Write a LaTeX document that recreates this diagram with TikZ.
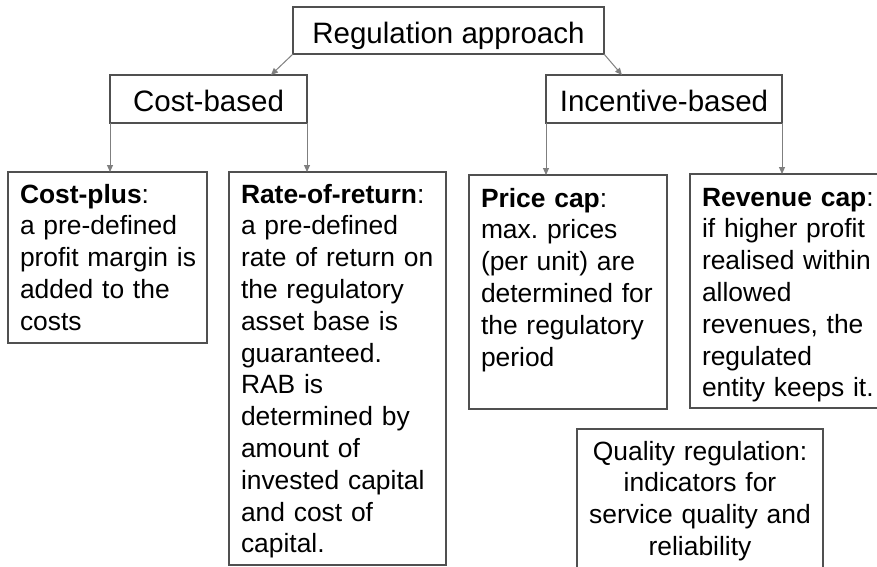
\documentclass[tikz,border=0pt]{standalone}
\usepackage{fontspec}
\setmainfont{Liberation Sans}
\usetikzlibrary{arrows.meta,calc}
\definecolor{boxc}{HTML}{505050}
\definecolor{arrc}{HTML}{7F7F7F}
\begin{document}
\begin{tikzpicture}[x=1pt,y=-1pt,
  box/.style={draw=boxc, line width=1.3pt, inner ysep=0pt, inner xsep=12pt, outer sep=0pt},
  head/.style={box, font=\fontsize{29.5}{35}\selectfont},
  body/.style={box, font=\fontsize{26.4}{31.8}\selectfont, align=left,
    execute at begin node={\hyphenpenalty=10000\exhyphenpenalty=10000\hfuzz=50pt}},
  arr/.style={draw=arrc, line width=1pt, -{Triangle[width=6pt,length=7pt]}}]
\useasboundingbox (0,0) rectangle (877,566);

\node[head, minimum width=311pt, text height=36pt, text depth=11pt, anchor=base] (top) at (448.5,43) {Regulation approach};
\node[head, minimum width=197pt, text height=36pt, text depth=12pt, anchor=base] (cb) at (208.5,111) {Cost-based};
\node[head, minimum width=236pt, text height=36pt, text depth=12pt, anchor=base] (ib) at (664,111) {Incentive-based};

\node[body, text width=175pt, text height=31pt, text depth=140pt, anchor=base west] (cp) at (8,203)
  {\textbf{Cost-plus}:\\a~pre-defined\\profit~margin~is\\added~to~the\\costs};
\node[body, text width=193pt, text height=31pt, text depth=362pt, anchor=base west] (rr) at (229,203)
  {\textbf{Rate-of-return}:\\a~pre-defined\\rate~of~return~on\\the~regulatory\\asset~base~is\\guaranteed.\\RAB~is\\determined~by\\amount~of\\invested~capital\\and~cost~of\\capital.};
\node[body, text width=174pt, text height=32pt, text depth=202pt, anchor=base west] (pc) at (469,207)
  {\textbf{Price~cap}:\\max.~prices\\(per~unit)~are\\determined~for\\the~regulatory\\period};
\node[body, text width=176pt, text height=32pt, text depth=202pt, anchor=base west] (rc) at (690,206)
  {\textbf{Revenue~cap}:\\if~higher~profit\\realised~within\\allowed\\revenues,~the\\regulated\\entity~keeps~it.};
\node[body, align=center, text width=222pt, text height=31pt, text depth=200pt, anchor=base] (qr) at (700,460)
  {Quality~regulation:\\indicators~for\\service~quality~and\\reliability};

\draw[arr] (top.south west) -- ($(cb.north west)!0.817!(cb.north east)$);
\draw[arr] (top.south east) -- ($(ib.north west)!0.322!(ib.north east)$);
\draw[arr] (cb.south west) -- (cb.south west |- cp.north);
\draw[arr] (cb.south east) -- (cb.south east |- rr.north);
\draw[arr] (ib.south west) -- (ib.south west |- pc.north);
\draw[arr] (ib.south east) -- (ib.south east |- rc.north);
\end{tikzpicture}
\end{document}
